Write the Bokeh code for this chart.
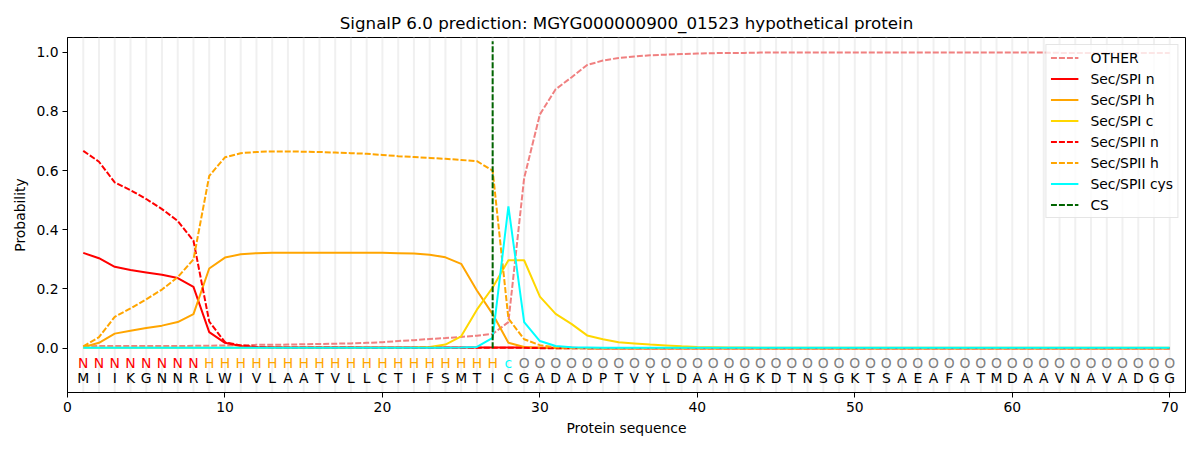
from bokeh.plotting import figure
from bokeh.models import FixedTicker, PrintfTickFormatter, Range1d, ColumnDataSource, Legend, LegendItem
from bokeh.core.properties import value
from bokeh.embed import file_html
from bokeh.resources import INLINE

title = "SignalP 6.0 prediction: MGYG000000900_01523 hypothetical protein"
sequence = list("MIIKGNNRLWIVLAATVLLCTIFSMTICGADADPTVYLDAAHGKDTNSGKTSAEAFATMDAAVNAVADGG")
labels = list("NNNNNNNN" + "H" * 19 + "c" + "O" * 42)
positions = list(range(1, len(sequence) + 1))
cs_position = 27

other = [0.006, 0.007, 0.007, 0.007, 0.007, 0.007, 0.007, 0.008, 0.008, 0.009,
         0.010, 0.011, 0.011, 0.012, 0.013, 0.014, 0.015, 0.016, 0.018, 0.020,
         0.024, 0.027, 0.031, 0.034, 0.038, 0.042, 0.048, 0.088, 0.575, 0.790,
         0.875, 0.915, 0.957, 0.972, 0.981, 0.986, 0.990, 0.992, 0.994, 0.996,
         0.997, 0.998, 0.998, 0.999, 0.999, 0.999, 0.999, 0.999, 0.999, 0.999,
         0.999, 0.999, 0.999, 0.999, 0.999, 0.999, 0.999, 0.999, 0.999, 0.999,
         0.999, 0.999, 0.998, 0.998, 0.998, 0.998, 0.998, 0.998, 0.998, 0.998]
sp1_n = [0.322, 0.304, 0.275, 0.264, 0.256, 0.248, 0.237, 0.207, 0.054, 0.018,
         0.007, 0.004, 0.003, 0.002, 0.002, 0.002, 0.002, 0.002, 0.002, 0.002,
         0.002, 0.002, 0.002, 0.002, 0.002, 0.002, 0.002, 0.002, 0.002, 0.001,
         0.001, 0.001, 0.000, 0.000, 0.000, 0.000, 0.000, 0.000, 0.000, 0.000,
         0.000, 0.000, 0.000, 0.000, 0.000, 0.000, 0.000, 0.000, 0.000, 0.000,
         0.000, 0.000, 0.000, 0.000, 0.000, 0.000, 0.000, 0.000, 0.000, 0.000,
         0.000, 0.000, 0.000, 0.000, 0.000, 0.000, 0.000, 0.000, 0.000, 0.000]
sp1_h = [0.003, 0.018, 0.049, 0.059, 0.068, 0.076, 0.088, 0.115, 0.269, 0.306,
         0.317, 0.321, 0.322, 0.322, 0.322, 0.322, 0.322, 0.322, 0.322, 0.322,
         0.321, 0.320, 0.316, 0.307, 0.285, 0.195, 0.115, 0.018, 0.004, 0.001,
         0.000, 0.000, 0.000, 0.000, 0.000, 0.000, 0.000, 0.000, 0.000, 0.000,
         0.000, 0.000, 0.000, 0.000, 0.000, 0.000, 0.000, 0.000, 0.000, 0.000,
         0.000, 0.000, 0.000, 0.000, 0.000, 0.000, 0.000, 0.000, 0.000, 0.000,
         0.000, 0.000, 0.000, 0.000, 0.000, 0.000, 0.000, 0.000, 0.000, 0.000]
sp1_c = [0.001, 0.001, 0.001, 0.001, 0.001, 0.001, 0.001, 0.001, 0.001, 0.001,
         0.001, 0.001, 0.001, 0.001, 0.001, 0.001, 0.001, 0.001, 0.001, 0.001,
         0.001, 0.002, 0.004, 0.012, 0.040, 0.130, 0.205, 0.297, 0.297, 0.174,
         0.116, 0.082, 0.043, 0.030, 0.020, 0.016, 0.012, 0.009, 0.006, 0.004,
         0.003, 0.002, 0.002, 0.001, 0.001, 0.001, 0.001, 0.001, 0.001, 0.001,
         0.001, 0.001, 0.001, 0.001, 0.001, 0.001, 0.001, 0.001, 0.001, 0.001,
         0.001, 0.001, 0.001, 0.001, 0.001, 0.001, 0.001, 0.001, 0.001, 0.001]
sp2_n = [0.667, 0.630, 0.560, 0.534, 0.504, 0.470, 0.430, 0.363, 0.090, 0.020,
         0.009, 0.004, 0.002, 0.002, 0.002, 0.002, 0.002, 0.002, 0.001, 0.001,
         0.001, 0.001, 0.001, 0.001, 0.001, 0.001, 0.001, 0.001, 0.001, 0.000,
         0.000, 0.000, 0.000, 0.000, 0.000, 0.000, 0.000, 0.000, 0.000, 0.000,
         0.000, 0.000, 0.000, 0.000, 0.000, 0.000, 0.000, 0.000, 0.000, 0.000,
         0.000, 0.000, 0.000, 0.000, 0.000, 0.000, 0.000, 0.000, 0.000, 0.000,
         0.000, 0.000, 0.000, 0.000, 0.000, 0.000, 0.000, 0.000, 0.000, 0.000]
sp2_h = [0.006, 0.037, 0.106, 0.134, 0.165, 0.198, 0.240, 0.300, 0.582, 0.645,
         0.659, 0.663, 0.665, 0.665, 0.664, 0.663, 0.661, 0.659, 0.657, 0.653,
         0.649, 0.646, 0.643, 0.640, 0.636, 0.632, 0.600, 0.100, 0.030, 0.010,
         0.003, 0.001, 0.000, 0.000, 0.000, 0.000, 0.000, 0.000, 0.000, 0.000,
         0.000, 0.000, 0.000, 0.000, 0.000, 0.000, 0.000, 0.000, 0.000, 0.000,
         0.000, 0.000, 0.000, 0.000, 0.000, 0.000, 0.000, 0.000, 0.000, 0.000,
         0.000, 0.000, 0.000, 0.000, 0.000, 0.000, 0.000, 0.000, 0.000, 0.000]
sp2_cys = [0.001, 0.001, 0.001, 0.001, 0.001, 0.001, 0.001, 0.001, 0.001, 0.001,
           0.001, 0.001, 0.001, 0.001, 0.001, 0.001, 0.001, 0.001, 0.001, 0.001,
           0.001, 0.001, 0.001, 0.001, 0.002, 0.004, 0.035, 0.479, 0.088, 0.024,
           0.007, 0.003, 0.002, 0.001, 0.001, 0.001, 0.001, 0.001, 0.001, 0.001,
           0.001, 0.001, 0.001, 0.001, 0.001, 0.001, 0.001, 0.001, 0.001, 0.001,
           0.001, 0.001, 0.001, 0.001, 0.001, 0.001, 0.001, 0.001, 0.001, 0.001,
           0.001, 0.001, 0.001, 0.001, 0.001, 0.001, 0.001, 0.001, 0.001, 0.001]

x_ticks = [0, 10, 20, 30, 40, 50, 60, 70]
y_ticks = [0.0, 0.2, 0.4, 0.6, 0.8, 1.0]

FONT = "DejaVu Sans"
label_colors = {"N": "red", "H": "orange", "c": "cyan", "O": "gray"}

p = figure(width=1200, height=450, output_backend="svg", toolbar_location=None,
           x_range=Range1d(0, 71), y_range=Range1d(-0.15, 1.05),
           min_border_left=67, min_border_right=15, min_border_top=37, min_border_bottom=58)
p.title.text = title
p.title.align = "center"
p.title.text_font = FONT
p.title.text_font_size = "16.7px"
p.title.text_font_style = "normal"
p.title.text_color = "black"

p.xgrid.visible = False
p.ygrid.visible = False
p.outline_line_color = "black"
p.outline_line_alpha = 1.0
p.outline_line_width = 1

for ax in (p.xaxis, p.yaxis):
    ax.major_tick_out = 5
    ax.major_tick_in = 0
    ax.minor_tick_out = 0
    ax.minor_tick_in = 0
    ax.major_label_text_font = FONT
    ax.major_label_text_font_size = "13.9px"
    ax.major_label_text_color = "black"
    ax.axis_label_text_font = FONT
    ax.axis_label_text_font_size = "13.9px"
    ax.axis_label_text_font_style = "normal"
    ax.axis_label_text_color = "black"
    ax.axis_line_color = "black"
    ax.major_tick_line_color = "black"
    ax.major_label_standoff = 4
    ax.axis_label_standoff = 5

p.xaxis.ticker = FixedTicker(ticks=x_ticks)
p.yaxis.ticker = FixedTicker(ticks=y_ticks)
p.yaxis.formatter = PrintfTickFormatter(format="%.1f")
p.xaxis.axis_label = "Protein sequence"
p.yaxis.axis_label = "Probability"

# vertical position guides
p.segment(x0=positions, x1=positions, y0=[-0.15] * len(positions), y1=[1.05] * len(positions),
          line_color="#eeeeee", line_width=2, line_alpha=0.9)

series = [
    ("OTHER", other, "lightcoral", "6 2"),
    ("Sec/SPI n", sp1_n, "red", "solid"),
    ("Sec/SPI h", sp1_h, "orange", "solid"),
    ("Sec/SPI c", sp1_c, "gold", "solid"),
    ("Sec/SPII n", sp2_n, "red", "6 2"),
    ("Sec/SPII h", sp2_h, "orange", "6 2"),
    ("Sec/SPII cys", sp2_cys, "cyan", "solid"),
]
items = []
for name, vals, color, dash in series:
    r = p.line(positions, vals, line_color=color, line_width=2, line_dash=dash)
    items.append(LegendItem(label=name, renderers=[r]))

cs = p.segment(x0=[cs_position], x1=[cs_position], y0=[0.0], y1=[1.037],
               line_color="darkgreen", line_width=2, line_dash="6 2")
items.append(LegendItem(label="CS", renderers=[cs]))

src = ColumnDataSource(dict(x=positions, lab=labels, seq=sequence,
                            col=[label_colors[c] for c in labels],
                            y1=[-0.05] * len(positions), y2=[-0.10] * len(positions)))
p.text(x="x", y="y1", text="lab", source=src, text_color="col", text_align="center",
       text_baseline="middle", text_font=value(FONT), text_font_size="13.9px")
p.text(x="x", y="y2", text="seq", source=src, text_color="black", text_align="center",
       text_baseline="middle", text_font=value(FONT), text_font_size="13.9px")

legend = Legend(items=items, location="top_right")
legend.margin = 7
legend.padding = 4
legend.spacing = 4
legend.glyph_width = 28
legend.glyph_height = 17
legend.label_height = 17
legend.label_standoff = 12
legend.label_text_font = FONT
legend.label_text_font_size = "13.9px"
legend.label_text_color = "black"
legend.border_line_color = "#cccccc"
legend.border_line_width = 1
legend.background_fill_alpha = 0.8
p.add_layout(legend, "center")

open("out.html", "w").write(file_html(p, INLINE))
